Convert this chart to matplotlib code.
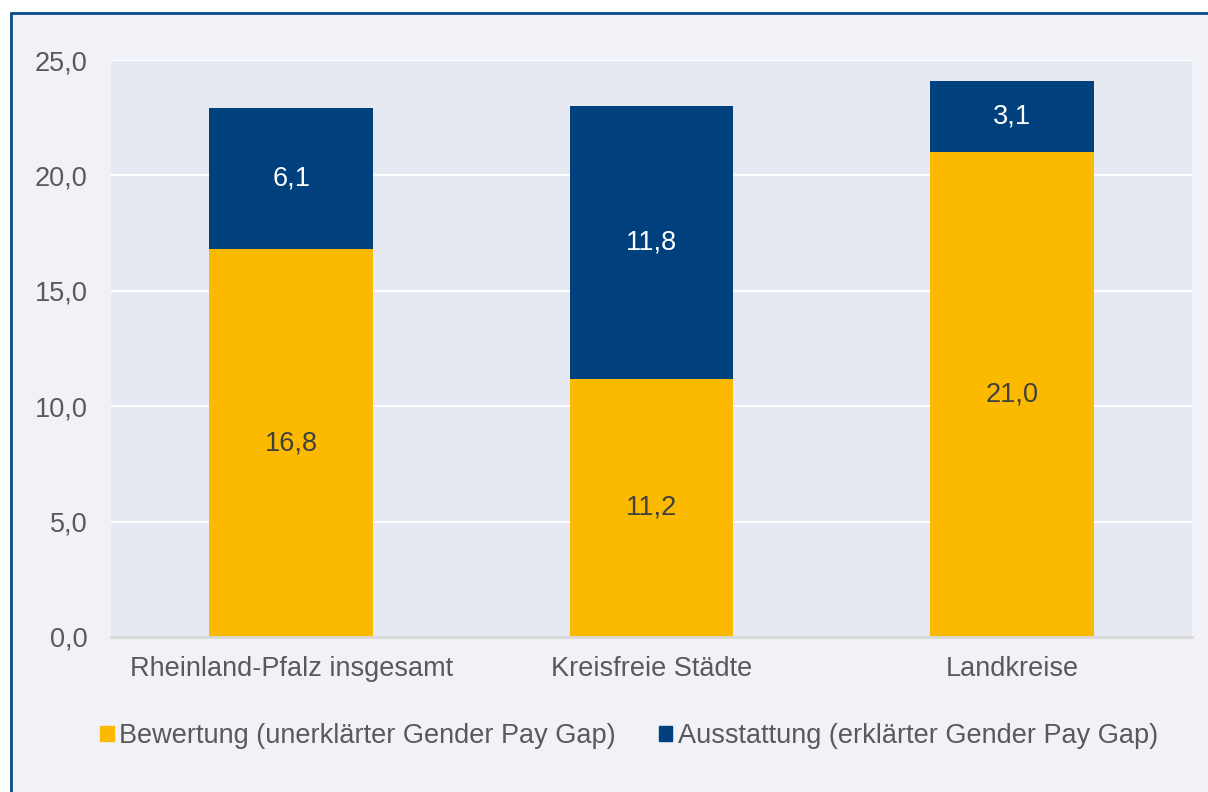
import matplotlib

matplotlib.use("Agg")

import matplotlib.pyplot as plt  # noqa: E402
from matplotlib.patches import Patch, Rectangle  # noqa: E402
import matplotlib.ticker as mticker  # noqa: E402

# data
categories = ["Rheinland-Pfalz insgesamt", "Kreisfreie Städte", "Landkreise"]
bewertung = [16.8, 11.2, 21.0]
ausstattung = [6.1, 11.8, 3.1]
series_names = [
    "Bewertung (unerklärter Gender Pay Gap)",
    "Ausstattung (erklärter Gender Pay Gap)",
]

YELLOW = "#FBBA00"
BLUE = "#00407C"
TEXT = "#595959"
FONT = 19.5

plt.rcParams["font.family"] = ["Liberation Sans", "DejaVu Sans"]

fig = plt.figure(figsize=(12.08, 7.92), dpi=100, facecolor="white")

# framed background with dark blue rule on top and left only
fig.patches.append(
    Rectangle(
        (11 / 1208, -0.05), 1.1, (792 - 13) / 792 + 0.05,
        transform=fig.transFigure, facecolor="#F0F2F8",
        edgecolor="#0B4A8B", linewidth=2, zorder=-10,
    )
)

ax = fig.add_axes([111 / 1208, 155 / 792, 1081 / 1208, 577 / 792])
ax.set_facecolor("#E6E9F2")

x = list(range(len(categories)))
width = 0.455
ax.bar(x, bewertung, width, color=YELLOW, zorder=3)
ax.bar(x, ausstattung, width, bottom=bewertung, color=BLUE, zorder=3)

for i in x:
    ax.text(i, bewertung[i] / 2, f"{bewertung[i]:.1f}".replace(".", ","),
            ha="center", va="center", fontsize=FONT, color="#404040", zorder=4)
    ax.text(i, bewertung[i] + ausstattung[i] / 2,
            f"{ausstattung[i]:.1f}".replace(".", ","),
            ha="center", va="center", fontsize=FONT, color="white", zorder=4)

ax.set_xlim(-0.5, len(categories) - 0.5)
ax.set_ylim(0, 25)
ax.yaxis.set_major_locator(mticker.MultipleLocator(5))
ax.yaxis.set_major_formatter(
    mticker.FuncFormatter(lambda v, _: f"{v:.1f}".replace(".", ","))
)
ax.grid(axis="y", color="white", linewidth=1.5, zorder=1)
ax.set_axisbelow(True)

ax.set_xticks(x)
ax.set_xticklabels(categories)
ax.tick_params(axis="both", length=0, labelsize=FONT, labelcolor=TEXT)
ax.tick_params(axis="y", pad=17)
ax.tick_params(axis="x", pad=14)

for side in ("top", "right", "left"):
    ax.spines[side].set_visible(False)
ax.spines["bottom"].set_color("#D9D9D9")
ax.spines["bottom"].set_linewidth(2)
ax.spines["bottom"].set_zorder(5)

handles = [Patch(color=YELLOW), Patch(color=BLUE)]
fig.legend(
    handles, series_names, loc="center", bbox_to_anchor=(629 / 1208, 56 / 792),
    ncol=2, frameon=False, fontsize=FONT, labelcolor=TEXT,
    handlelength=0.5, handleheight=0.5, handletextpad=0.2, columnspacing=1.6,
)

fig.savefig("out.png", dpi=100, facecolor=fig.get_facecolor())
plt.close(fig)
